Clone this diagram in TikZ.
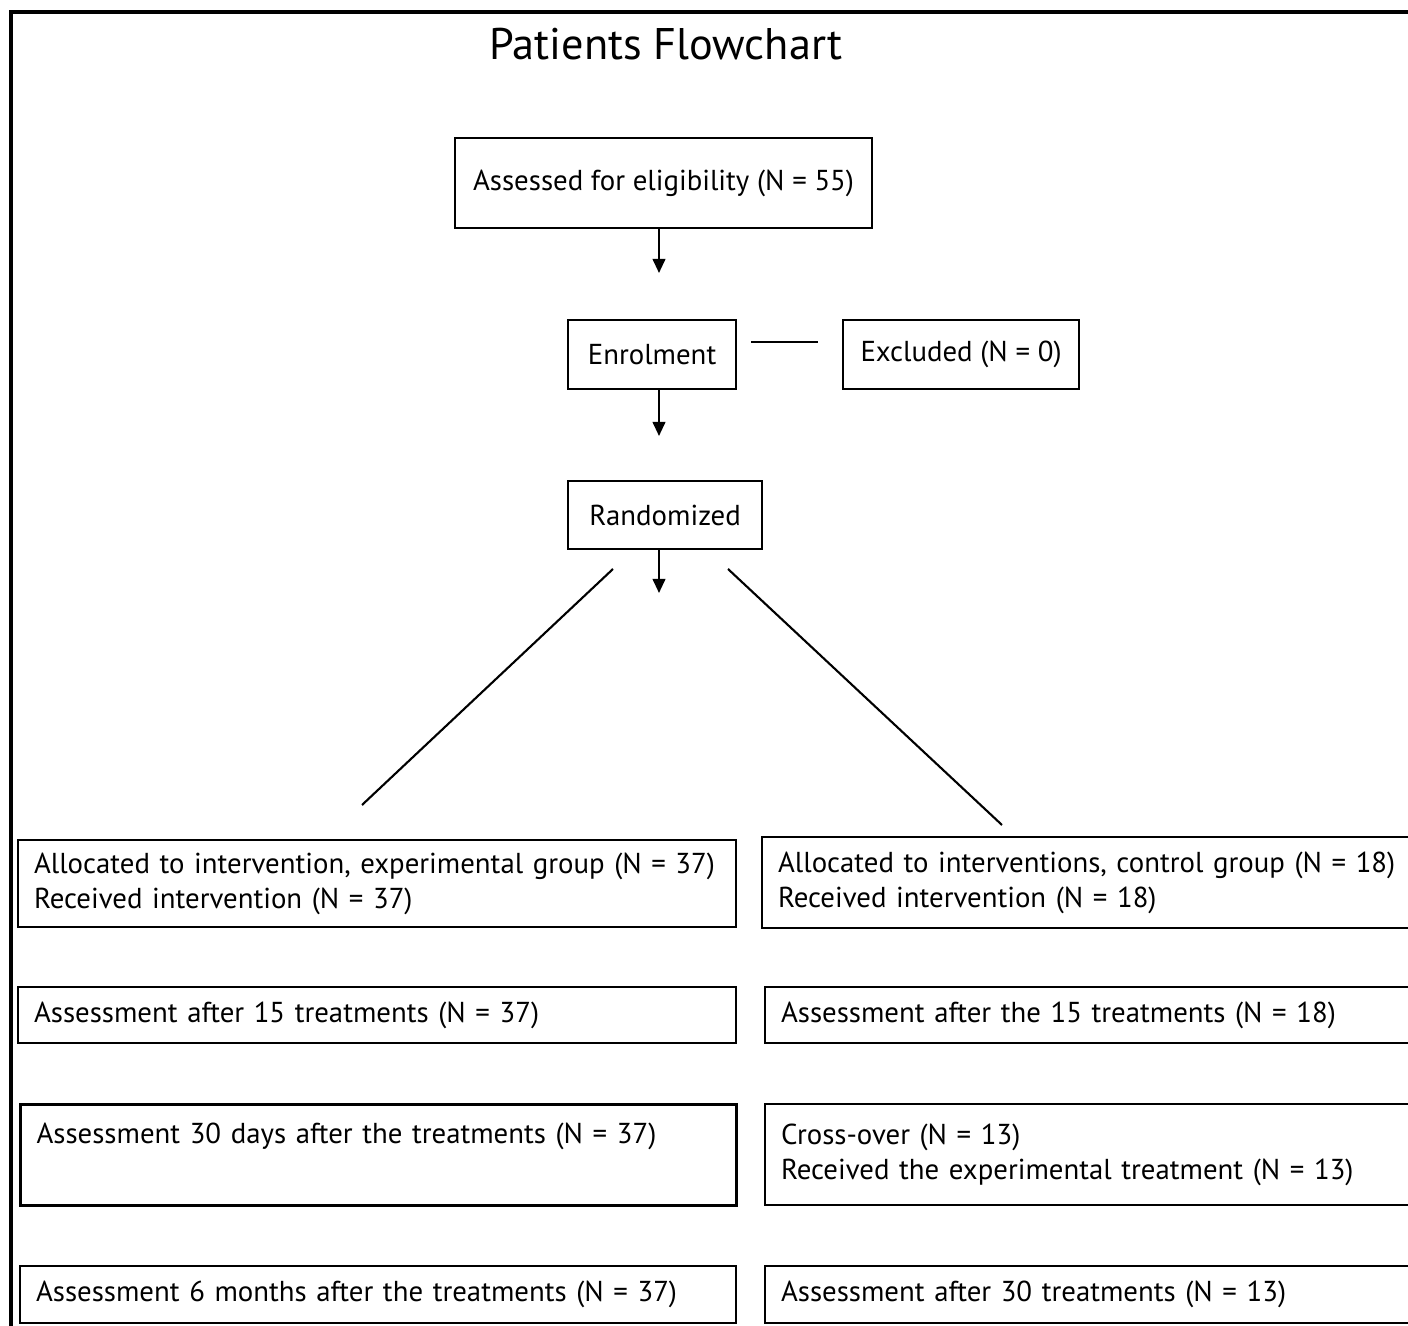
\documentclass[tikz,border=0pt]{standalone}
\usepackage{fontspec}
\setmainfont{PT Sans}
\usetikzlibrary{arrows.meta}
\tikzset{
  topbox/.style={draw, line width=0.6pt, anchor=north west, inner sep=0pt,
    font=\fontsize{8.2}{10}\selectfont},
  box/.style={draw, line width=0.6pt, anchor=north west, align=left,
    inner xsep=0.16cm, inner ysep=0pt, font=\fontsize{8.2}{10}\selectfont},
  arr/.style={line width=0.6pt, -{Triangle[length=4pt,width=3.6pt]}}
}
\begin{document}
\begin{tikzpicture}
    \useasboundingbox (0,0) rectangle (14.08,-13.26);
    % outer frame and title
    \draw[line width=0.9pt] (0.11,-0.12) rectangle (14.3,-13.4);
    \node (title) at (6.66,-0.44) {\fontsize{12.6}{14}\selectfont Patients Flowchart};
    % top column
    \node[topbox, minimum width=4.17cm, minimum height=0.90cm] (elig) at (4.54,-1.37)
    {Assessed for eligibility (N = 55)};
    \node[topbox, minimum width=1.68cm, minimum height=0.69cm] (enrol) at (5.67,-3.19)
    {Enrolment};
    \node[topbox, minimum width=2.36cm, minimum height=0.69cm] (excl) at (8.42,-3.19)
    {Excluded (N = 0)};
    \node[topbox, minimum width=1.94cm, minimum height=0.68cm] (rand) at (5.67,-4.80)
    {Randomized};
    \coordinate (a1) at (6.59,-2.73);
    \coordinate (a2) at (6.59,-4.36);
    \coordinate (a3) at (6.59,-5.93);
    \draw[arr] (a1 |- elig.south) -- (a1);
    \draw[arr] (a2 |- enrol.south) -- (a2);
    \draw[arr] (a3 |- rand.south) -- (a3);
    \coordinate (e1) at (7.51,-3.42);
    \coordinate (e2) at (8.18,-3.42);
    \draw[line width=0.6pt] (e1) -- (e2);
    % split into the two groups
    \coordinate (d1) at (6.13,-5.69);
    \coordinate (d2) at (3.62,-8.05);
    \coordinate (d3) at (7.28,-5.69);
    \coordinate (d4) at (10.02,-8.25);
    \draw[line width=0.6pt] (d1) -- (d2);
    \draw[line width=0.6pt] (d3) -- (d4);
    % experimental group
    \node[box, text width=6.86cm, minimum height=0.87cm] (expA) at (0.17,-8.39)
    {Allocated to intervention, experimental group (N = 37)\\
    Received intervention (N = 37)};
    \node[box, text width=6.86cm, minimum height=0.56cm] (expB) at (0.17,-9.86)
    {Assessment after 15 treatments (N = 37)};
    \node[box, line width=0.9pt, text width=6.84cm, minimum height=1.01cm,
    text depth=0.44cm] (expC) at (0.19,-11.03)
    {Assessment 30 days after the treatments (N = 37)};
    \node[box, text width=6.84cm, minimum height=0.57cm] (expD) at (0.19,-12.65)
    {Assessment 6 months after the treatments (N = 37)};
    % control group
    \node[box, text width=6.47cm, minimum height=0.91cm] (ctrlA) at (7.61,-8.36)
    {Allocated to interventions, control group (N = 18)\\
    Received intervention (N = 18)};
    \node[box, text width=6.44cm, minimum height=0.56cm] (ctrlB) at (7.64,-9.86)
    {Assessment after the 15 treatments (N = 18)};
    \node[box, text width=6.44cm, minimum height=1.01cm] (ctrlC) at (7.64,-11.03)
    {Cross-over (N = 13)\\
    Received the experimental treatment (N = 13)};
    \node[box, text width=6.44cm, minimum height=0.57cm] (ctrlD) at (7.64,-12.65)
    {Assessment after 30 treatments (N = 13)};
  \end{tikzpicture}
\end{document}
